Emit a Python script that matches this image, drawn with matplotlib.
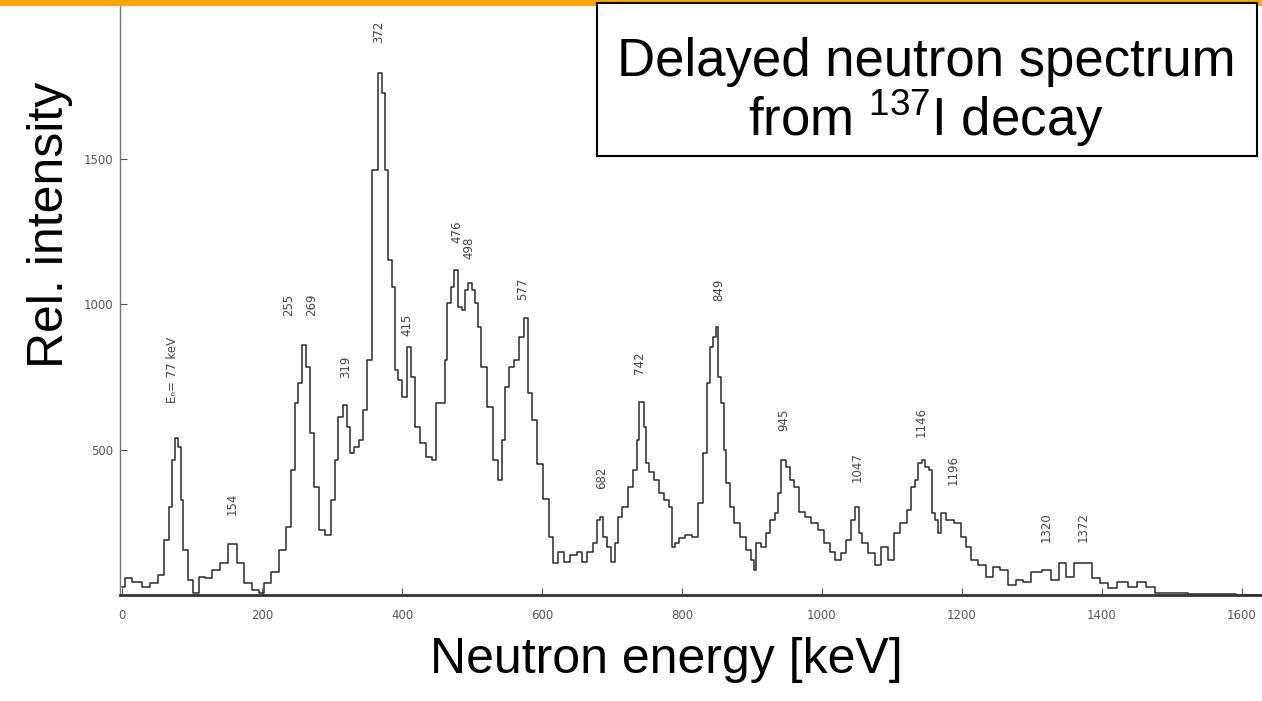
import matplotlib
matplotlib.use("Agg")
import matplotlib.pyplot as plt
from matplotlib.patches import Rectangle

plt.rcParams['mathtext.fontset'] = 'custom'
plt.rcParams['mathtext.rm'] = 'Liberation Sans'

# spectrum (energy in keV, relative intensity)
energy = [0, 7, 21, 35, 45, 57, 64, 69, 73, 77, 82, 85, 90, 97, 106, 114, 123, 135, 145, 158,
          169, 180, 192, 200, 207, 219, 230, 238, 245, 250, 254, 261, 266, 271, 278, 285, 295, 302,
          307, 311, 319, 323, 328, 335, 342, 347, 354, 361, 369, 373, 378, 383, 388, 392, 397, 402,
          411, 416, 421, 430, 440, 447, 450, 459, 464, 466, 473, 477, 483, 488, 492, 497, 502, 507,
          511, 516, 526, 535, 540, 545, 550, 557, 564, 571, 578, 583, 588, 597, 607, 614, 619, 628,
          635, 645, 654, 661, 669, 676, 680, 685, 690, 697, 701, 707, 711, 719, 726, 733, 738, 740,
          745, 747, 750, 757, 764, 771, 778, 785, 788, 792, 800, 809, 821, 826, 833, 838, 842, 847,
          850, 854, 858, 861, 866, 871, 878, 888, 895, 902, 904, 909, 916, 923, 930, 935, 939, 945,
          952, 957, 964, 971, 980, 990, 1000, 1007, 1016, 1023, 1031, 1038, 1045, 1051, 1054, 1061,
          1071, 1080, 1090, 1100, 1107, 1116, 1126, 1130, 1135, 1140, 1145, 1150, 1156, 1158, 1164,
          1169, 1171, 1183, 1195, 1202, 1209, 1216, 1230, 1240, 1250, 1259, 1273, 1283, 1292, 1307,
          1323, 1333, 1345, 1354, 1366, 1380, 1392, 1404, 1414, 1430, 1445, 1457, 1469, 1483, 1507,
          1540, 1578, 1606, 1629]
intensity = [28, 57, 46, 28, 40, 69, 189, 303, 464, 538, 510, 326, 155, 52, 7, 63, 57, 86, 109, 175,
             109, 40, 17, 7, 40, 80, 155, 235, 430, 659, 727, 859, 785, 556, 372, 223, 206, 326,
             464, 613, 653, 578, 487, 510, 533, 636, 808, 1460, 1793, 1724, 1460, 1151, 1059, 773, 739, 681,
             853, 750, 578, 521, 475, 464, 659, 659, 808, 1002, 1059, 1117, 991, 979, 1048, 1071, 1048, 1002,
             922, 785, 647, 464, 395, 533, 716, 785, 808, 888, 951, 693, 601, 450, 330, 200, 109, 149,
             115, 137, 149, 115, 149, 178, 258, 269, 200, 166, 115, 178, 269, 303, 372, 430, 533, 664,
             664, 578, 452, 424, 395, 349, 326, 303, 166, 178, 195, 206, 200, 315, 487, 727, 853, 888,
             922, 750, 659, 498, 384, 303, 246, 200, 155, 120, 86, 178, 166, 212, 258, 281, 349, 464,
             441, 395, 372, 286, 269, 246, 223, 178, 149, 120, 143, 189, 258, 303, 212, 178,
             143, 103, 166, 120, 212, 246, 292, 372, 395, 452, 464, 441, 430, 281, 258,
             212, 281, 258, 246, 200, 166, 120, 103, 63, 97, 86, 34, 52, 46, 80,
             86, 52, 109, 63, 109, 109, 57, 40, 23, 46, 29, 46, 29, 6, 6,
             3, 3, 0, 0]

# peak annotations written on the original plot
peak_labels = ["Eₙ= 77 keV", "154", "255", "269", "319", "372", "415", "476", "498", "577",
               "682", "742", "849", "945", "1047", "1146", "1196", "1320", "1372"]
label_x = [72, 157, 238, 271, 319, 366, 407, 478, 495, 573, 685, 740, 852, 945, 1050, 1142, 1188, 1321, 1373]
label_y = [773, 315, 997, 997, 785, 1935, 928, 1248, 1192, 1054, 402, 797, 1048, 601, 440, 596, 430, 235, 235]

x_ticks = [0, 200, 400, 600, 800, 1000, 1200, 1400, 1600]
y_ticks = [500, 1000, 1500]

fig = plt.figure(figsize=(12.62, 7.01), dpi=100)
ax = fig.add_axes([120 / 1262, 106 / 701, 1142 / 1262, 595 / 701])

ax.plot(energy, intensity, drawstyle='steps-mid', color='#2a2a2a', lw=1.1)

for lab, lx, ly in zip(peak_labels, label_x, label_y):
    ax.text(lx, ly, lab, rotation=90, ha='center', va='center', fontsize=8.5, color='#444444')

ax.set_xlim(-3, 1629)
ax.set_ylim(0, 2045)
ax.set_xticks(x_ticks)
ax.set_yticks(y_ticks)
ax.tick_params(axis='both', direction='in', length=5, labelsize=8.5, labelcolor='#555555', colors='#555555')
ax.tick_params(axis='x', pad=10)
ax.tick_params(axis='y', pad=5)
for s in ['top', 'right']:
    ax.spines[s].set_visible(False)
ax.spines['left'].set_color('#777777')
ax.spines['left'].set_linewidth(1.0)
ax.spines['bottom'].set_color('#333333')
ax.spines['bottom'].set_linewidth(2.0)

fig.text(50 / 1262, 1 - 225 / 701, "Rel. intensity", rotation=90, ha='center', va='center',
         fontsize=36, family='Liberation Sans')
fig.text(666 / 1262, 1 - 660 / 701, "Neutron energy [keV]", ha='center', va='center',
         fontsize=36, family='Liberation Sans')

# orange bar at the top of the slide
fig.patches.append(Rectangle((0, 1 - 6 / 701), 1, 6 / 701, transform=fig.transFigure,
                             facecolor='#FFA500', edgecolor='none', zorder=1))
fig.patches.append(Rectangle((597 / 1262, 1 - 156 / 701), 660 / 1262, 153 / 701,
                             transform=fig.transFigure, facecolor='white', edgecolor='black',
                             lw=1.5, zorder=2))
fig.text(926 / 1262, 1 - 62 / 701, "Delayed neutron spectrum", ha='center', va='center',
         fontsize=38, family='Liberation Sans', zorder=3)
fig.text(926 / 1262, 1 - 118 / 701, r"from $\mathregular{^{137}}$I decay", ha='center', va='center',
         fontsize=38, family='Liberation Sans', zorder=3)

fig.savefig("out.png", dpi=100)
